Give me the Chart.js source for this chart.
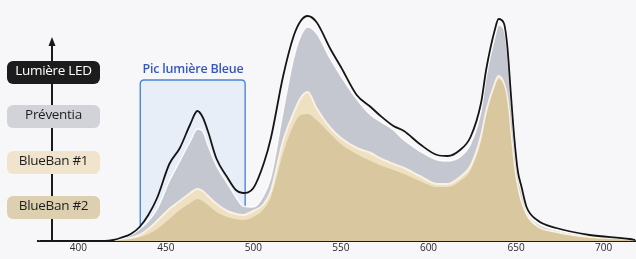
<!DOCTYPE html>
<html>
<head>
<meta charset="utf-8">
<script src="https://cdn.jsdelivr.net/npm/chart.js@4/dist/chart.umd.min.js"></script>
<style>
  html, body { margin: 0; padding: 0; background: #f7f7f9; }
  #wrap { position: relative; width: 636px; height: 259px; overflow: hidden; }
  canvas { display: block; }
  .tag {
    position: absolute; left: 7px; width: 93px; height: 23px;
    border-radius: 6px; text-align: center; line-height: 23px;
    font: 13.5px "Open Sans", sans-serif; color: #1e1e1e; letter-spacing: -0.3px;
  }
  #title {
    position: absolute; left: 128px; width: 130px; top: 60px;
    text-align: center; font: 600 12.5px "Open Sans", sans-serif; color: #3558bf;
    letter-spacing: -0.2px;
  }
</style>
</head>
<body>
<div id="wrap">
  <canvas id="spectre" width="636" height="259"></canvas>
  <div class="tag" style="top:61px;background:#1c1c1c;color:#fff;">Lumière LED</div>
  <div class="tag" style="top:105px;background:#d2d3d9;">Préventia</div>
  <div class="tag" style="top:151px;background:#f1e4cd;">BlueBan #1</div>
  <div class="tag" style="top:196px;background:#ddd0b0;">BlueBan #2</div>
  <div id="title">Pic lumière Bleue</div>
</div>
<script>
// wavelengths (nm)
var wavelengths = [378, 415, 420, 424, 430, 435, 440, 445, 452, 458,
  464, 468, 471, 474, 479, 485, 490, 494, 500, 506,
  510, 517, 523, 527, 531, 536, 544, 550, 559, 567,
  572, 580, 586, 595, 605, 611, 618, 624, 630, 633,
  638, 640, 643, 645, 647, 649, 651, 653, 656, 662,
  673, 692, 715, 718];

var ledValues = [0, 0, 1, 3, 7, 14, 26, 43, 77, 93,
  117, 130, 124, 110, 82, 64, 51, 48, 53, 78,
  103, 165, 205, 220, 225, 219, 192, 174, 146, 134,
  126, 115, 110, 97, 86, 85, 91, 104, 138, 172,
  212, 222, 218, 195, 148, 103, 70, 55, 34, 21,
  13, 6, 2, 1];

var preventiaValues = [0, 0, 1, 2, 6, 12, 20, 32, 60, 80,
  100, 112, 110, 96, 75, 58, 44, 35, 34, 46,
  64, 130, 183, 205, 214, 208, 182, 165, 142, 126,
  120, 111, 101, 90, 81, 80, 84, 97, 130, 165,
  205, 216, 212, 190, 143, 97, 66, 50, 31, 18,
  11, 5, 1, 0];

var blueBan1Values = [0, 0, 0, 1, 3, 6, 12, 20, 32, 40,
  48, 52, 50, 45, 37, 30, 27, 26, 30, 37,
  50, 100, 128, 143, 149, 133, 113, 103, 93, 88,
  83, 77, 73, 65, 57, 57, 64, 75, 105, 130,
  158, 165, 158, 143, 108, 75, 54, 40, 27, 15,
  9, 4, 1, 0];

var blueBan2Values = [0, 0, 0, 1, 2, 4, 7, 12, 22, 31,
  38, 42, 40, 36, 29, 24, 22, 21, 24, 32,
  44, 88, 116, 126, 127, 121, 107, 97, 87, 80,
  76, 71, 67, 60, 54, 54, 60, 71, 100, 126,
  155, 162, 156, 140, 105, 72, 51, 38, 25, 14,
  8, 3, 1, 0];

var tickValues = [400, 450, 500, 550, 600, 650, 700];
var bluePeak = [435.4, 495.3];   // "Pic lumière Bleue" band
var axisAt = 385.2;              // where the vertical arrow stands

function toPoints(vals) {
  return vals.map(function (v, i) { return { x: wavelengths[i], y: v }; });
}

// blue highlight box behind the curves
var boxPlugin = {
  id: 'bluebox',
  beforeDatasetsDraw: function (chart) {
    var ctx = chart.ctx, xs = chart.scales.x, ys = chart.scales.y;
    var x1 = xs.getPixelForValue(bluePeak[0]);
    var x2 = xs.getPixelForValue(bluePeak[1]);
    var top = ys.getPixelForValue(161);
    var bottom = ys.getPixelForValue(0);
    var r = 4;
    ctx.save();
    ctx.beginPath();
    ctx.moveTo(x1, bottom);
    ctx.lineTo(x1, top + r);
    ctx.quadraticCurveTo(x1, top, x1 + r, top);
    ctx.lineTo(x2 - r, top);
    ctx.quadraticCurveTo(x2, top, x2, top + r);
    ctx.lineTo(x2, bottom);
    ctx.fillStyle = 'rgba(218,229,248,0.5)';
    ctx.fill();
    ctx.strokeStyle = '#4a86d6';
    ctx.lineWidth = 1.4;
    ctx.stroke();
    ctx.restore();
  }
};

// vertical arrow on the left
var arrowPlugin = {
  id: 'arrow',
  afterDraw: function (chart) {
    var ctx = chart.ctx;
    var x = Math.round(chart.scales.x.getPixelForValue(axisAt));
    var bottom = chart.scales.y.getPixelForValue(0);
    ctx.save();
    ctx.strokeStyle = '#1a1a1a';
    ctx.lineWidth = 2;
    ctx.beginPath();
    ctx.moveTo(x, bottom);
    ctx.lineTo(x, 44);
    ctx.stroke();
    ctx.fillStyle = '#1a1a1a';
    ctx.beginPath();
    ctx.moveTo(x, 37);
    ctx.lineTo(x - 3.5, 46);
    ctx.lineTo(x + 3.5, 46);
    ctx.closePath();
    ctx.fill();
    ctx.restore();
  }
};

var ctx = document.getElementById('spectre').getContext('2d');
new Chart(ctx, {
  type: 'line',
  data: {
    datasets: [{
      label: 'Lumière LED',
      data: toPoints(ledValues),
      borderColor: '#151515',
      borderWidth: 1.8,
      fill: false,
      order: 0
    }, {
      label: 'BlueBan #2',
      data: toPoints(blueBan2Values),
      borderColor: 'rgba(0,0,0,0)',
      borderWidth: 0,
      backgroundColor: '#d9c89f',
      fill: 'origin',
      order: 1
    }, {
      label: 'BlueBan #1',
      data: toPoints(blueBan1Values),
      borderColor: '#f8f1e4',
      borderWidth: 2,
      backgroundColor: '#efe0c2',
      fill: 'origin',
      order: 2
    }, {
      label: 'Préventia',
      data: toPoints(preventiaValues),
      borderColor: 'rgba(255,255,255,0.85)',
      borderWidth: 1.5,
      backgroundColor: '#c5c7d0',
      fill: 'origin',
      order: 3
    }]
  },
  options: {
    responsive: false,
    animation: false,
    devicePixelRatio: 1,
    layout: { padding: { left: 38, right: 0, top: 0, bottom: 0 } },
    elements: {
      point: { radius: 0 },
      line: { cubicInterpolationMode: 'monotone' }
    },
    plugins: { legend: { display: false }, tooltip: { enabled: false } },
    scales: {
      x: {
        type: 'linear',
        min: 377,
        max: 718.5,
        grid: { display: false, drawTicks: false },
        border: { display: true, color: '#1a1a1a', width: 2 },
        ticks: {
          padding: 1,
          color: '#2a2a2a',
          font: { family: 'Open Sans', size: 10 }
        },
        afterBuildTicks: function (s) {
          s.ticks = tickValues.map(function (v) { return { value: v }; });
        },
        afterFit: function (s) { s.height = 18; }
      },
      y: {
        display: false,
        min: 0,
        max: 241
      }
    }
  },
  plugins: [boxPlugin, arrowPlugin]
});
</script>
</body>
</html>
